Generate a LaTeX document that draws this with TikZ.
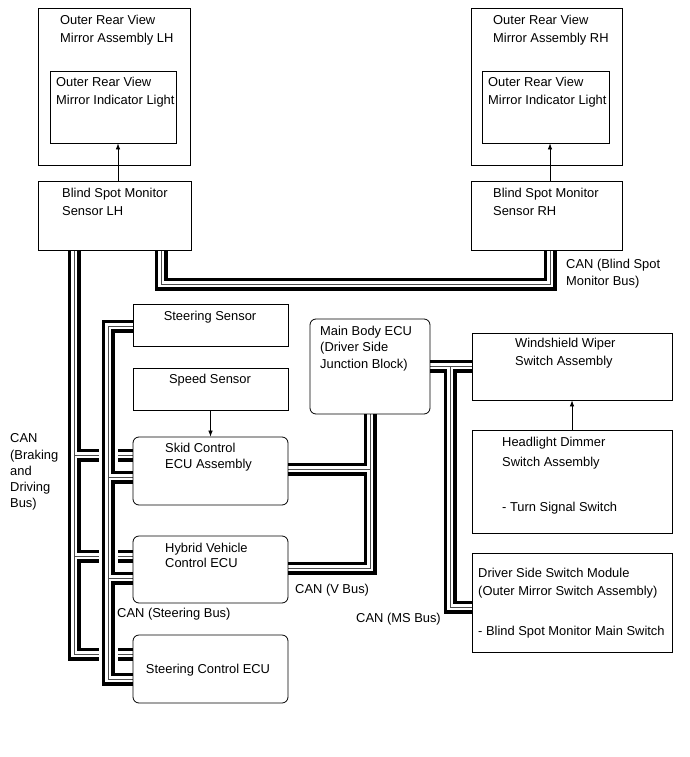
\documentclass[tikz,border=0pt]{standalone}
\usepackage{fontspec}
\setmainfont{Liberation Sans}
\usetikzlibrary{fit,arrows.meta}
\pgfdeclarelayer{base}
\pgfdeclarelayer{buslayer}
\pgfsetlayers{base,buslayer,main}
\begin{document}
\begin{tikzpicture}[x=1pt,y=-1pt,
  box/.style={draw=black, line width=0.8pt, inner sep=0pt},
  rbox/.style={box, rounded corners=6pt},
  txt/.style={font=\fontsize{12.9}{16}\selectfont, inner sep=0pt, anchor=base west},
  ctxt/.style={txt, anchor=base},
  arr/.style={line width=0.7pt, -{Latex[length=6pt,width=4.5pt]}},
  bus/.style={line width=13pt, line join=miter, draw=black,
    postaction={draw=white, line width=6.6pt},
    postaction={draw=black!70, line width=0.6pt}},
  busover/.style={bus, preaction={draw=white, line width=19pt}}
]
\begin{pgfonlayer}{base}
\fill[white] (0,0) rectangle (690,757);
\end{pgfonlayer}
\useasboundingbox (0,0) rectangle (690,757);

% ---- boxes ----
\path node[box, fit={(38,8) (190,165)}] (omL) {}
      node[box, fit={(471,8) (622,165)}] (omR) {};
\path node[box, fit={(50,71) (176,143)}] (imL) {}
      node[box, fit={(482,71) (609,143)}] (imR) {}
      node[box, fit={(38,181) (191,250)}] (bsmL) {}
      node[box, fit={(471,181) (622,250)}] (bsmR) {}
      node[box, fit={(133,304) (288,346)}] (steer) {}
      node[box, fit={(133,368) (288,410)}] (speed) {}
      node[rbox, fit={(133,437) (288,505)}] (skid) {}
      node[rbox, fit={(133,536) (288,603)}] (hv) {}
      node[rbox, fit={(133,635) (288,703)}] (sce) {}
      node[rbox, fit={(310,319) (430,414)}] (mb) {}
      node[box, fit={(472,333) (672,400)}] (ww) {}
      node[box, fit={(472,430) (672,533)}] (hd) {}
      node[box, fit={(472,553) (672,652)}] (ds) {};

% ---- bus bend / junction points ----
\coordinate (cB1) at (161,284);
\coordinate (cB2) at (550,284);
\coordinate (cK0) at (74,455);
\coordinate (cK1) at (74,556);
\coordinate (cK2) at (74,654);
\coordinate (cS0) at (108,326);
\coordinate (cS1) at (108,477);
\coordinate (cS2) at (108,578);
\coordinate (cS3) at (108,679);
\coordinate (cV0) at (370,469);
\coordinate (cV1) at (370,568);
\coordinate (cM0) at (450,366);
\coordinate (cM1) at (450,607);

% ---- CAN buses (behind the boxes) ----
\begin{pgfonlayer}{buslayer}
\draw[bus] (bsmL.south -| cB1) -- (cB1) -- (cB2) -- (bsmR.south -| cB2);
\draw[bus] (bsmL.south -| cK2) -- (cK2) -- (sce.west |- cK2)
           (cK0) -- (skid.west |- cK0)
           (cK1) -- (hv.west |- cK1);
\draw[busover] (steer.west |- cS0) -- (cS0) -- (cS3) -- (sce.west |- cS3)
           (cS1) -- (skid.west |- cS1)
           (cS2) -- (hv.west |- cS2);
\draw[bus] (mb.south -| cV1) -- (cV1) -- (hv.east |- cV1)
           (cV0) -- (skid.east |- cV0);
\draw[bus] (mb.east |- cM0) -- (ww.west |- cM0)
           (cM0) -- (cM1) -- (ds.west |- cM1);
\end{pgfonlayer}

% ---- arrows ----
\coordinate (aL) at (118,181);
\coordinate (aR) at (550,181);
\draw[arr] (aL) -- (imL.south -| aL);
\draw[arr] (aR) -- (imR.south -| aR);
\draw[arr] (speed.south) -- (skid.north -| speed.south);
\draw[arr] (hd.north) -- (ww.south);

% ---- texts ----
\node[txt] (tomL1) at (60,25) {Outer Rear View};
\node[txt] (tomL2) at (60,43) {Mirror Assembly LH};
\node[txt] (timL1) at (56,87) {Outer Rear View};
\node[txt] (timL2) at (56,105) {Mirror Indicator Light};
\node[txt] (tbsL1) at (62,197) {Blind Spot Monitor};
\node[txt] (tbsL2) at (62,215) {Sensor LH};
\node[txt] (tomR1) at (493,25) {Outer Rear View};
\node[txt] (tomR2) at (493,43) {Mirror Assembly RH};
\node[txt] (timR1) at (488,87) {Outer Rear View};
\node[txt] (timR2) at (488,105) {Mirror Indicator Light};
\node[txt] (tbsR1) at (493,197) {Blind Spot Monitor};
\node[txt] (tbsR2) at (493,215) {Sensor RH};
\node[txt] (tcb1) at (566,268) {CAN (Blind Spot};
\node[txt] (tcb2) at (566,285) {Monitor Bus)};
\node[ctxt] (tst) at (210,320) {Steering Sensor};
\node[ctxt] (tsp) at (210,383) {Speed Sensor};
\node[txt] (tsk1) at (165,452) {Skid Control};
\node[txt] (tsk2) at (165,468) {ECU Assembly};
\node[txt] (thv1) at (165,552) {Hybrid Vehicle};
\node[txt] (thv2) at (165,567) {Control ECU};
\node[ctxt] (tsce) at (208,673) {Steering Control ECU};
\node[txt] (tmb1) at (320,335) {Main Body ECU};
\node[txt] (tmb2) at (320,351) {(Driver Side};
\node[txt] (tmb3) at (320,368) {Junction Block)};
\node[txt] (tww1) at (515,347) {Windshield Wiper};
\node[txt] (tww2) at (515,365) {Switch Assembly};
\node[txt] (thd1) at (502,446) {Headlight Dimmer};
\node[txt] (thd2) at (502,466) {Switch Assembly};
\node[txt] (thd3) at (502,511) {- Turn Signal Switch};
\node[txt] (tds1) at (478,577) {Driver Side Switch Module};
\node[txt] (tds2) at (478,595) {(Outer Mirror Switch Assembly)};
\node[txt] (tds3) at (478,635) {- Blind Spot Monitor Main Switch};
\node[txt] (tcbd1) at (10,442) {CAN};
\node[txt] (tcbd2) at (10,459) {(Braking};
\node[txt] (tcbd3) at (10,475) {and};
\node[txt] (tcbd4) at (10,491) {Driving};
\node[txt] (tcbd5) at (10,507) {Bus)};
\node[txt] (tcs) at (117,617) {CAN (Steering Bus)};
\node[txt] (tcv) at (295,593) {CAN (V Bus)};
\node[txt, anchor=base east] (tcm) at (441,622) {CAN (MS Bus)};
\end{tikzpicture}
\end{document}
